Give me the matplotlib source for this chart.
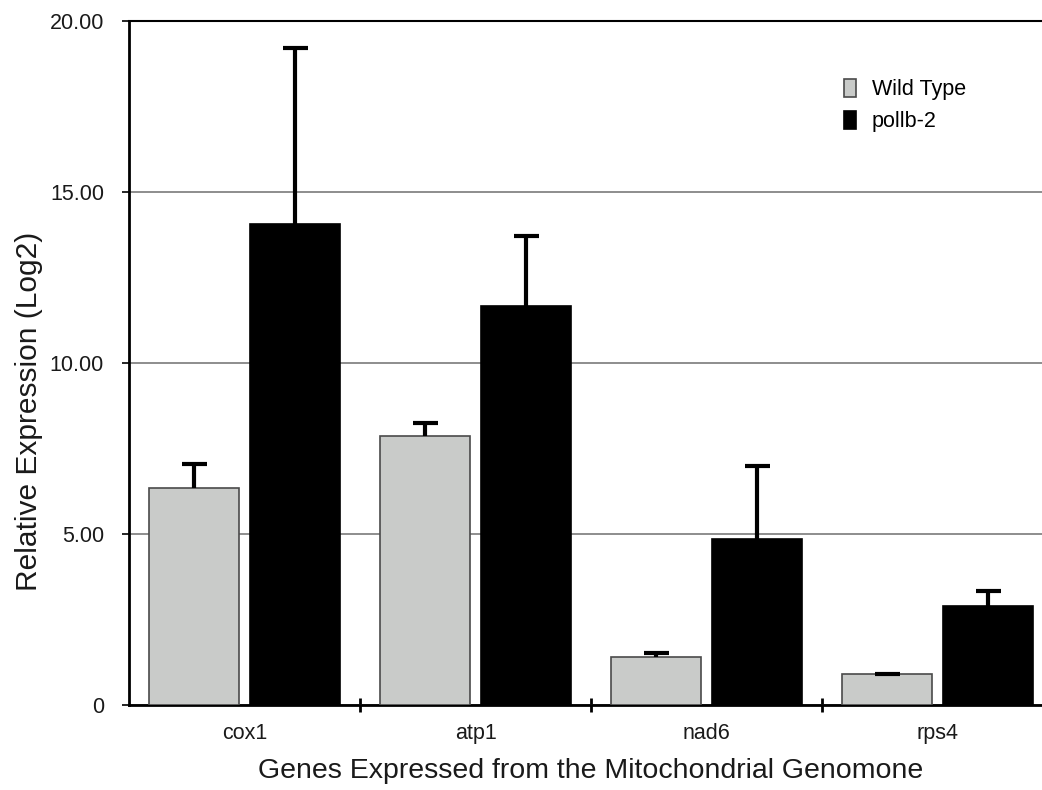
import matplotlib.pyplot as plt
import numpy as np

plt.rcParams['font.family'] = ['Liberation Sans', 'DejaVu Sans']

# Relative expression (log2) per mitochondrial gene
genes = ['cox1', 'atp1', 'nad6', 'rps4']
wild_type = [6.35, 7.87, 1.40, 0.90]
wild_type_err = [0.70, 0.38, 0.12, 0.02]
pollb2 = [14.06, 11.68, 4.85, 2.90]
pollb2_err = [5.15, 2.04, 2.14, 0.44]

fig = plt.figure(figsize=(10.42, 7.90), dpi=100)
# axes runs a bit past the right edge of the figure
ax = fig.add_axes([0.1238, 0.1076, 0.8868, 0.8658])

x = np.arange(len(genes))
width = 0.39
offset = 0.22

ax.bar(x - offset, wild_type, width, color='#c9cbc9', edgecolor='#4a4a4a',
       linewidth=1.2, label='Wild Type', zorder=3)
ax.bar(x + offset, pollb2, width, color='black', edgecolor='black',
       linewidth=1.2, label='pollb-2', zorder=3)

# upward-only error bars (lower caps hidden)
for pos, vals, errs in [(x - offset, wild_type, wild_type_err),
                        (x + offset, pollb2, pollb2_err)]:
    eb = ax.errorbar(pos, vals, yerr=[np.zeros(len(genes)), errs], fmt='none',
                     ecolor='black', elinewidth=3, capsize=9, capthick=3, zorder=4)
    eb[1][0].set_visible(False)

ax.set_xlim(-0.5, len(genes) - 0.5)
ax.set_ylim(0, 20)
ax.set_yticks([0, 5, 10, 15, 20])
ax.set_yticklabels(['0', '5.00', '10.00', '15.00', '20.00'])
ax.yaxis.grid(True, color='#7a7a7a', linewidth=1.2, zorder=0)

# boundary ticks between genes, labels centred under each pair
ax.set_xticks(np.arange(len(genes) - 1) + 0.5)
ax.set_xticklabels([])
ax.set_xticks(x, minor=True)
ax.set_xticklabels(genes, minor=True)
ax.tick_params(axis='x', which='major', direction='inout', length=10, width=2)
ax.tick_params(axis='x', which='minor', length=0, pad=13, labelsize=15.5, labelcolor='#1a1a1a')
ax.tick_params(axis='y', direction='out', length=5, width=1.2, pad=13, labelsize=15.5,
               labelcolor='#1a1a1a')

for side in ['left', 'bottom']:
    ax.spines[side].set_linewidth(2)
ax.spines['top'].set_linewidth(1.5)
ax.spines['right'].set_visible(False)

ax.set_ylabel('Relative Expression (Log2)', fontsize=21.5, color='#1a1a1a')
ax.yaxis.set_label_coords(-0.093, 0.43)
ax.set_xlabel('Genes Expressed from the Mitochondrial Genomone', fontsize=20.5,
              labelpad=10, color='#1a1a1a')

ax.legend(loc='upper left', bbox_to_anchor=(0.764, 0.928), frameon=False,
          fontsize=15.5, handlelength=0.6, handleheight=0.9, handletextpad=0.7,
          labelspacing=0.5, borderaxespad=0)

fig.savefig('out.png', dpi=100)
